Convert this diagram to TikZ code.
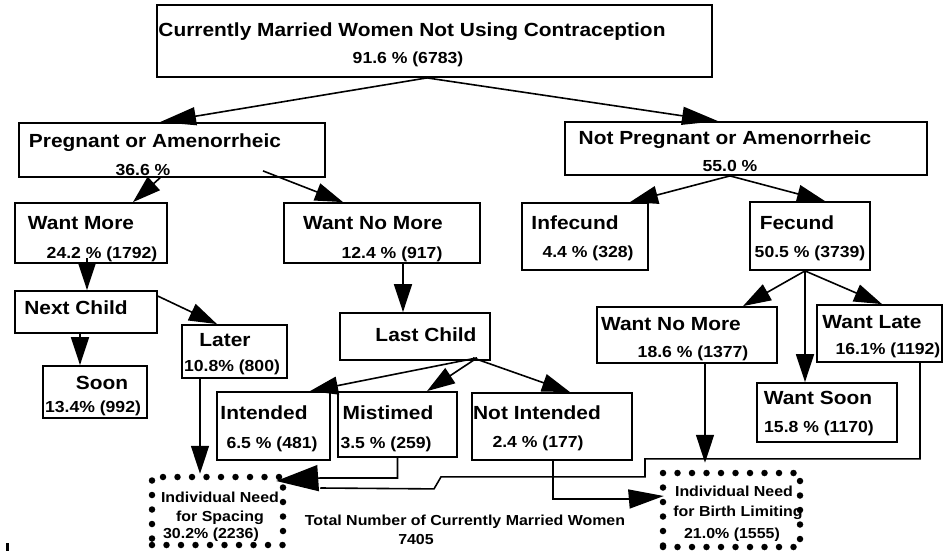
\documentclass[tikz,border=0pt]{standalone}
\usepackage{fontspec}
\setmainfont{Liberation Sans}[FakeStretch=1.1]
\usetikzlibrary{arrows.meta,fit,calc}
\begin{document}
\begin{tikzpicture}[x=1pt,y=-1pt, line width=1.6pt,
  box/.style={draw, inner sep=0pt, line width=1.8pt},
  need/.style={draw, inner sep=0pt, line width=6.5pt, line cap=round, dash pattern=on 0pt off 14.5pt},
  lbl/.style={inner sep=0pt, text height=13.6pt, text depth=0pt, font=\fontsize{19}{21}\selectfont\bfseries},
  pct/.style={inner sep=0pt, text height=11.5pt, text depth=0pt, font=\fontsize{16}{18}\selectfont\bfseries},
  sml/.style={inner sep=0pt, text height=10.4pt, text depth=0pt, font=\fontsize{14.5}{17}\selectfont\bfseries},
  arr/.style={-{Triangle[length=28pt,width=18pt]}},
  longarr/.style={-{Triangle[length=36pt,width=18pt]}},
  bigarr/.style={-{Triangle[length=42pt,width=26pt]}},
  midarr/.style={-{Triangle[length=35pt,width=19pt]}}]
\useasboundingbox (0,0) rectangle (943,554);

% boxes
\node[box, fit={(157,5) (712,77)}] (top) {};
\node[box, fit={(19,123) (325,177)}] (preg) {};
\node[box, fit={(565,122) (927,175)}] (notpreg) {};
\node[box, fit={(15,203) (167,263)}] (wantmore) {};
\node[box, fit={(284,203) (480,263)}] (wantnomoreL) {};
\node[box, fit={(522,203) (648,270)}] (infecund) {};
\node[box, fit={(750,202) (870,270)}] (fecund) {};
\node[box, fit={(15,291) (157,333)}] (nextchild) {};
\node[box, fit={(43,366) (147,418)}] (soon) {};
\node[box, fit={(182,325) (287,378)}] (later) {};
\node[box, fit={(340,313) (490,360)}] (lastchild) {};
\node[box, fit={(217,392) (330,460)}] (intended) {};
\node[box, fit={(338,392) (457,457)}] (mistimed) {};
\node[box, fit={(472,393) (632,460)}] (notintended) {};
\node[box, fit={(597,307) (777,363)}] (wantnomoreR) {};
\node[box, fit={(817,305) (942,362)}] (wantlate) {};
\node[box, fit={(757,383) (897,442)}] (wantsoon) {};
\node[need, fit={(152,477) (283,545)}] (spacing) {};
\node[need, fit={(663,473) (800,547)}] (birthlim) {};

% texts
\node[lbl] (ttop1) at (412,30) {Currently Married Women Not Using Contraception};
\node[pct] (ttop2) at (408,58) {91.6 \% (6783)};
\node[lbl] (tpreg1) at (155,141) {Pregnant or Amenorrheic};
\node[pct] (tpreg2) at (143,170) {36.6 \%};
\node[lbl] (tnp1) at (725,138) {Not Pregnant or Amenorrheic};
\node[pct] (tnp2) at (730,166) {55.0 \%};
\node[lbl] (twm1) at (81,223) {Want More};
\node[pct] (twm2) at (102,253) {24.2 \% (1792)};
\node[lbl] (twnl1) at (373,223) {Want No More};
\node[pct] (twnl2) at (392,253) {12.4 \% (917)};
\node[lbl] (tinf1) at (575,223) {Infecund};
\node[pct] (tinf2) at (588,252) {4.4 \% (328)};
\node[lbl] (tfec1) at (797,223) {Fecund};
\node[pct] (tfec2) at (810,252) {50.5 \% (3739)};
\node[lbl] (tnc) at (76,308) {Next Child};
\node[lbl] (tsoon1) at (102,383) {Soon};
\node[pct] (tsoon2) at (93,407) {13.4\% (992)};
\node[lbl] (tlater1) at (225,340) {Later};
\node[pct] (tlater2) at (232,366) {10.8\% (800)};
\node[lbl] (tlc) at (426,335) {Last Child};
\node[lbl] (tint1) at (264,413) {Intended};
\node[pct] (tint2) at (272,443) {6.5 \% (481)};
\node[lbl] (tmis1) at (388,413) {Mistimed};
\node[pct] (tmis2) at (386,443) {3.5 \% (259)};
\node[lbl] (tni1) at (537,413) {Not Intended};
\node[pct] (tni2) at (538,442) {2.4 \% (177)};
\node[lbl] (twnr1) at (671,324) {Want No More};
\node[pct] (twnr2) at (693,352) {18.6 \% (1377)};
\node[lbl] (twl1) at (872,322) {Want Late};
\node[pct] (twl2) at (888,349) {16.1\% (1192)};
\node[lbl] (tws1) at (818,398) {Want Soon};
\node[pct] (tws2) at (819,427) {15.8 \% (1170)};
\node[sml] (tsp1) at (220,497) {Individual Need};
\node[sml] (tsp2) at (220,516) {for Spacing};
\node[sml] (tsp3) at (211,533) {30.2\% (2236)};
\node[sml] (tbl1) at (734,491) {Individual Need};
\node[sml] (tbl2) at (738,511) {for Birth Limiting};
\node[sml] (tbl3) at (732,533) {21.0\% (1555)};
\node[sml] (ttot1) at (465,520) {Total Number of Currently Married Women};
\node[sml] (ttot2) at (416,539) {7405};

% connectors
\draw[longarr] ([xshift=-7.5pt]top.south) -- ([xshift=-12pt]preg.north);
\draw[longarr] ([xshift=-7.5pt]top.south) -- ([xshift=-28pt]notpreg.north);
\draw[arr] ([xshift=-12pt]preg.south) -- ([xshift=42pt]wantmore.north);
\draw[arr] ([xshift=91pt,yshift=7pt]preg.south) -- ([xshift=-39pt]wantnomoreL.north);
\draw[arr] ([xshift=-16pt]notpreg.south) -- ([xshift=45pt]infecund.north);
\draw[arr] ([xshift=-16pt]notpreg.south) -- ([xshift=15pt]fecund.north);
\draw[arr] ([xshift=-4pt,yshift=6pt]wantmore.south) -- ([xshift=1pt]nextchild.north);
\draw[arr] ([xshift=21pt]wantnomoreL.south) -- ([xshift=-12pt]lastchild.north);
\draw[arr] ([xshift=-6pt]nextchild.south) -- ([xshift=-15pt]soon.north);
\draw[arr] ([yshift=-6pt]nextchild.north east) -- ([xshift=-17.5pt]later.north);
\draw[arr] ([xshift=62pt,yshift=3pt]lastchild.south) -- ([xshift=36.5pt]intended.north);
\draw[arr] ([xshift=62pt,yshift=3pt]lastchild.south) -- ([xshift=29.5pt]mistimed.north);
\draw[arr] ([xshift=58pt,yshift=3pt]lastchild.south) -- ([xshift=18pt]notintended.north);
\draw[arr] ([xshift=-5pt]fecund.south) -- ([xshift=56pt]wantnomoreR.north);
\draw[arr] ([xshift=-5pt]fecund.south) -- ([xshift=-22pt]wantsoon.north);
\draw[arr] ([xshift=-5pt]fecund.south) -- ([xshift=2.5pt]wantlate.north);
\draw[arr] ([xshift=18pt]wantnomoreR.south) -- ([xshift=-26.5pt,yshift=7pt]birthlim.north);
\draw[arr] ([xshift=-34.5pt]later.south) -- ([xshift=-17.5pt]spacing.north);
\draw[bigarr] (mistimed.south) |- ([xshift=34pt,yshift=33pt]spacing.east) -- ([xshift=-10pt,yshift=30pt]spacing.east);
\coordinate (lateend) at ([xshift=34pt,yshift=23pt]spacing.east);
\draw ([xshift=40.5pt]wantlate.south) -- ++(0,96) -- ++(-275,0) -- ++(0,18) -- ++(-204,0) -- ++(-7,12) -- (lateend);
\draw[midarr] ([xshift=1pt]notintended.south) |- ([xshift=-31pt,yshift=11pt]birthlim.west) -- ([xshift=4pt,yshift=14pt]birthlim.west);

% stray mark at left
\fill (6,543) rectangle (9,551);
\end{tikzpicture}
\end{document}
